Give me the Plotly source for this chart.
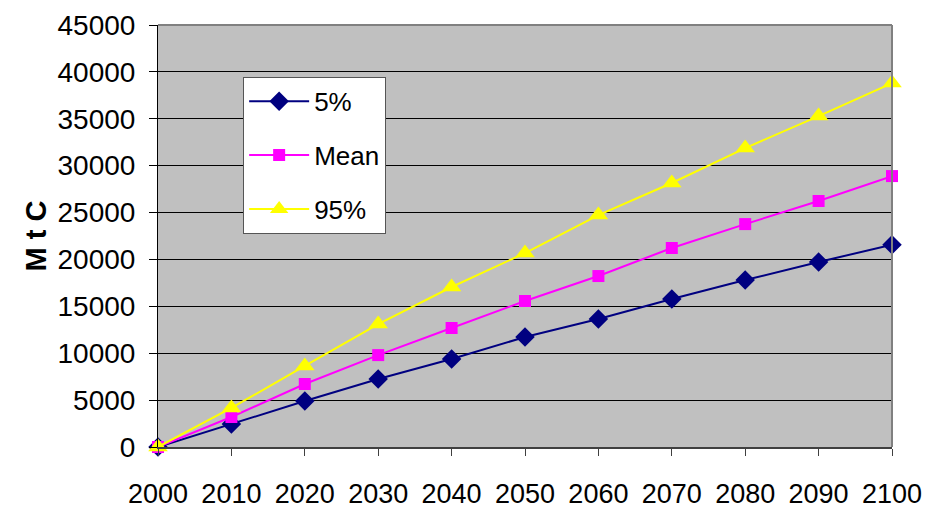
import plotly.graph_objects as go

years = [2000, 2010, 2020, 2030, 2040, 2050, 2060, 2070, 2080, 2090, 2100]
p5 = [0, 2450, 4900, 7250, 9380, 11730, 13650, 15780, 17800, 19720, 21580]
mean = [0, 3200, 6720, 9800, 12690, 15570, 18230, 21220, 23770, 26230, 28890]
p95 = [0, 4160, 8640, 13110, 17060, 20680, 24730, 28150, 31880, 35290, 38810]

y_ticks = list(range(0, 45001, 5000))
y_labels = [str(v) for v in y_ticks]

font = "Liberation Sans, Arial, sans-serif"

fig = go.Figure()
series = [
    ("5%", p5, "#000080", "diamond", 15),
    ("Mean", mean, "#FF00FF", "square", 12),
    ("95%", p95, "#FFFF00", "triangle-up", 17),
]
for name, vals, color, sym, size in series:
    fig.add_trace(go.Scatter(
        x=years, y=vals, name=name, mode="lines+markers",
        line=dict(color=color, width=2),
        marker=dict(symbol=sym, size=size, color=color, line=dict(width=0)),
        cliponaxis=False, legendgroup=name,
    ))

fig.update_layout(
    width=930, height=510,
    margin=dict(l=158, r=38, t=25, b=63),
    paper_bgcolor="white",
    plot_bgcolor="#C0C0C0",
    font=dict(family=font, color="black"),
    showlegend=True,
    legend=dict(
        x=0.116, y=0.877, xanchor="left", yanchor="top",
        bgcolor="white", bordercolor="#555555", borderwidth=1,
        font=dict(size=26, family=font),
        tracegroupgap=17, itemwidth=60,
    ),
    xaxis=dict(
        range=[2000, 2100], tickvals=years, ticktext=[str(y) for y in years],
        showgrid=False, zeroline=False, automargin=False,
        showline=True, linecolor="#404040", linewidth=2,
        ticks="outside", ticklen=7, tickcolor="#404040",
        tickfont=dict(size=27, family=font),
        ticklabelstandoff=15,
    ),
    yaxis=dict(
        range=[0, 45000], tickvals=y_ticks, ticktext=y_labels,
        showgrid=True, gridcolor="black", gridwidth=1,
        zeroline=False, automargin=False,
        showline=True, linecolor="black", linewidth=1,
        ticks="outside", ticklen=8, tickcolor="black",
        tickfont=dict(size=28, family=font),
        ticklabelstandoff=8,
        title=dict(text="<b>M t C</b>", font=dict(size=29, family=font), standoff=2),
    ),
    shapes=[
        dict(type="line", xref="paper", yref="paper", x0=0, x1=1, y0=1, y1=1,
             line=dict(color="#808080", width=2)),
        dict(type="line", xref="paper", yref="paper", x0=1, x1=1, y0=0, y1=1,
             line=dict(color="#808080", width=2)),
    ],
)

fig.write_html("out.html")
